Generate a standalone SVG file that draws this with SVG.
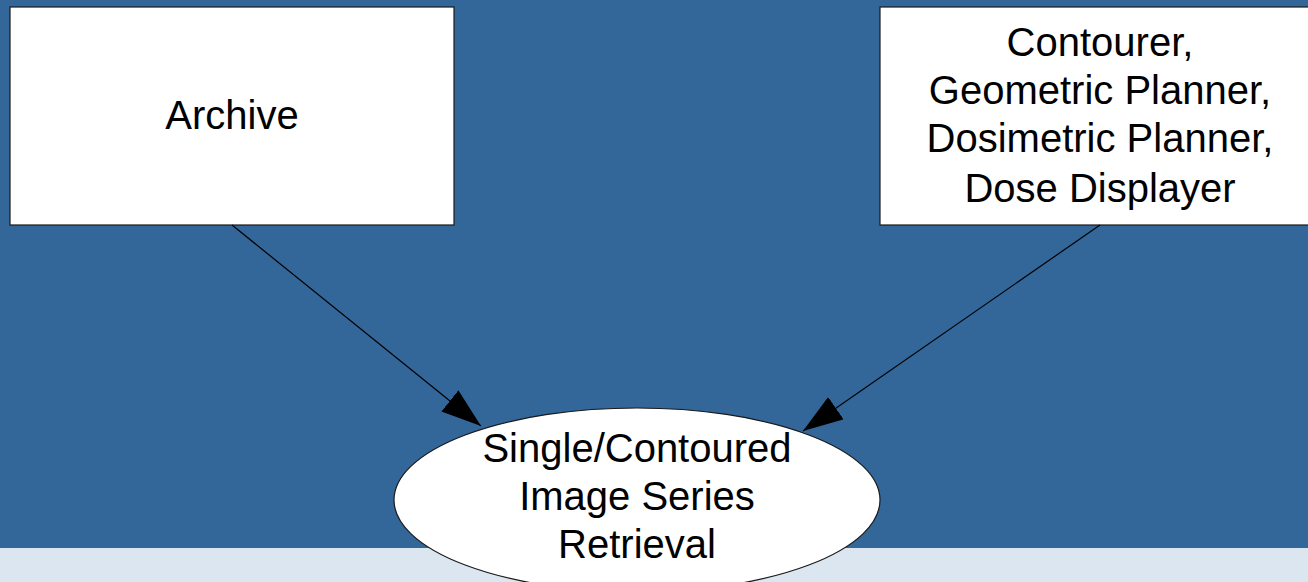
<svg xmlns="http://www.w3.org/2000/svg" width="1308" height="582" viewBox="0 0 1308 582">
<style>
.box{fill:#ffffff;stroke:#1a1a1a;stroke-width:1.2}
.lbl{font-family:"Liberation Sans",Arial,sans-serif;font-size:40px;fill:#000000;text-anchor:middle}
.edge{stroke:#000000;stroke-width:1.2;fill:none}
</style>
<defs>
<marker id="arr" markerUnits="userSpaceOnUse" markerWidth="42" markerHeight="28" refX="40" refY="13.5" orient="auto">
<path d="M0,0 L40,13.5 L0,27 Z" fill="#000000"/>
</marker>
</defs>
<rect x="0" y="0" width="1308" height="582" fill="#336699"/>
<rect x="0" y="548" width="1308" height="34" fill="#dbe6f1"/>
<g id="archive">
<rect class="box" x="10" y="7" width="444" height="218"/>
<text class="lbl" x="232" y="129">Archive</text>
</g>
<g id="planners">
<rect class="box" x="880" y="7" width="440" height="218"/>
<text class="lbl" x="1100" y="56">Contourer,</text>
<text class="lbl" x="1100" y="103.5">Geometric Planner,</text>
<text class="lbl" x="1100" y="152">Dosimetric Planner,</text>
<text class="lbl" x="1100" y="202">Dose Displayer</text>
</g>
<g id="connectors">
<line class="edge" x1="232" y1="225" x2="481" y2="426" marker-end="url(#arr)"/>
<line class="edge" x1="1100" y1="225" x2="803" y2="431" marker-end="url(#arr)"/>
</g>
<g id="retrieval">
<ellipse class="box" cx="637" cy="500" rx="243" ry="92"/>
<text class="lbl" x="637" y="462">Single/Contoured</text>
<text class="lbl" x="637" y="510">Image Series</text>
<text class="lbl" x="637" y="558">Retrieval</text>
</g>
</svg>
